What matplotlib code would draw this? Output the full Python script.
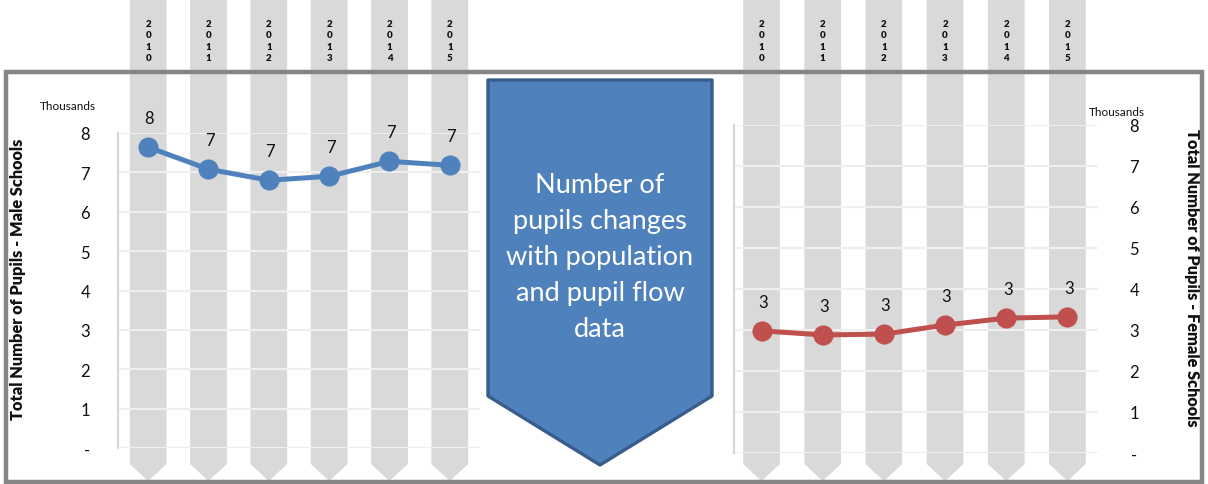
import matplotlib
matplotlib.use("Agg")
import matplotlib.pyplot as plt
from matplotlib.patches import Polygon, Rectangle
from matplotlib.transforms import blended_transform_factory
import numpy as np

# ---------------- data ----------------
years = ["2010", "2011", "2012", "2013", "2014", "2015"]
male_pupils = [7.64, 7.08, 6.80, 6.90, 7.28, 7.18]      # thousands
female_pupils = [2.98, 2.88, 2.90, 3.12, 3.29, 3.32]    # thousands
y_ticks = [0, 1, 2, 3, 4, 5, 6, 7, 8]
y_tick_labels = ["-", "1", "2", "3", "4", "5", "6", "7", "8"]
male_title = "Total Number of Pupils - Male Schools"
female_title = "Total Number of Pupils - Female Schools"
arrow_text = "Number of\npupils changes\nwith population\nand pupil flow\ndata"

W, H = 1208, 485
plt.rcParams['font.family'] = ['Lato', 'DejaVu Sans']
fig = plt.figure(figsize=(W / 100, H / 100), dpi=100)

BLUE = "#4F81BD"
RED = "#C0504D"
BAR = "#D9D9D9"
GRID = "#EFEFEF"


def px_axes(x0, y_top, x1, y_bot):
    return fig.add_axes([x0 / W, 1 - y_bot / H, (x1 - x0) / W, (y_bot - y_top) / H])


def panel(ax, values, color, xlim, bar_w, side):
    ax.set_facecolor("none")
    x = np.arange(len(years))
    ax.set_xlim(*xlim)
    ax.set_ylim(0, 8)
    trans = blended_transform_factory(ax.transData, fig.transFigure)
    for xi, yr in zip(x, years):
        top = 1.0
        rect_bot = 1 - 465 / H
        tip = 1 - 482 / H
        poly = Polygon([(xi - bar_w / 2, top), (xi + bar_w / 2, top),
                        (xi + bar_w / 2, rect_bot), (xi, tip),
                        (xi - bar_w / 2, rect_bot)],
                       closed=True, facecolor=BAR, edgecolor="none",
                       transform=trans, clip_on=False, zorder=0.8)
        ax.add_patch(poly)
        ax.text(xi, 1 - 41.5 / H, "\n".join(yr), transform=trans,
                ha="center", va="center", fontsize=7, fontweight="heavy",
                linespacing=1.3, color="#111111", zorder=1)
    ax.plot(x, values, color=color, lw=3.6, marker="o", ms=13.5,
            zorder=3, clip_on=False)
    for xi, v in zip(x, values):
        ax.annotate(f"{v:.0f}", (xi, v), xytext=(1, 21), textcoords="offset points",
                    ha="center", va="center", fontsize=12, color="#111111")
    ax.set_yticks(y_ticks)
    ax.set_yticklabels(y_tick_labels, fontsize=12, color="#111111")
    ax.set_xticks([])
    ax.yaxis.grid(True, color=GRID, lw=1.5)
    ax.tick_params(axis="y", length=0)
    for s in ["top", "right", "bottom", "left"]:
        ax.spines[s].set_visible(False)
    ax.spines["left"].set_visible(True)
    ax.spines["left"].set_color("#D4D4D4")
    ax.spines["left"].set_linewidth(1.5)
    if side == "right":
        ax.yaxis.tick_right()
        ax.tick_params(axis="y", labelleft=False, labelright=True)
        for lab in ax.get_yticklabels():
            lab.set_horizontalalignment("center")
        ax.tick_params(axis="y", pad=26)
    else:
        ax.tick_params(axis="y", pad=20)


axL = px_axes(118, 134, 480, 449)
panel(axL, male_pupils, BLUE, (-0.5, 5.5), 0.61, "left")

axR = px_axes(734, 126, 1098, 454)
panel(axR, female_pupils, RED, (-0.45, 5.5), 0.60, "right")

# Thousands labels
fig.text(68 / W, 1 - 106 / H, "Thousands", fontsize=8.5, ha="center", va="center", color="#111111")
fig.text(1117 / W, 1 - 113 / H, "Thousands", fontsize=8.5, ha="center", va="center", color="#111111")

# axis titles
fig.text(18 / W, 1 - 279 / H, male_title, rotation=90, fontsize=11.8, fontweight="heavy",
         ha="center", va="center", color="#111111")
fig.text(1192 / W, 1 - 278 / H, female_title, rotation=270, fontsize=11.8, fontweight="heavy",
         ha="center", va="center", color="#111111")

# overlay: border and arrow
ov = fig.add_axes([0, 0, 1, 1], zorder=5)
ov.set_xlim(0, W)
ov.set_ylim(H, 0)
ov.axis("off")
ov.set_facecolor("none")
ov.add_patch(Rectangle((6, 73), 1196, 410, fill=False, edgecolor="#858585", lw=3.2))
arrow = Polygon([(488, 81), (712, 81), (712, 397), (600, 466), (488, 397)], closed=True,
                facecolor=BLUE, edgecolor="#385D8A", lw=2.4, joinstyle="round")
ov.add_patch(arrow)
ov.text(600, 258, arrow_text, ha="center", va="center", fontsize=19.5, color="white",
        linespacing=1.55)

fig.savefig("out.png", dpi=100)
